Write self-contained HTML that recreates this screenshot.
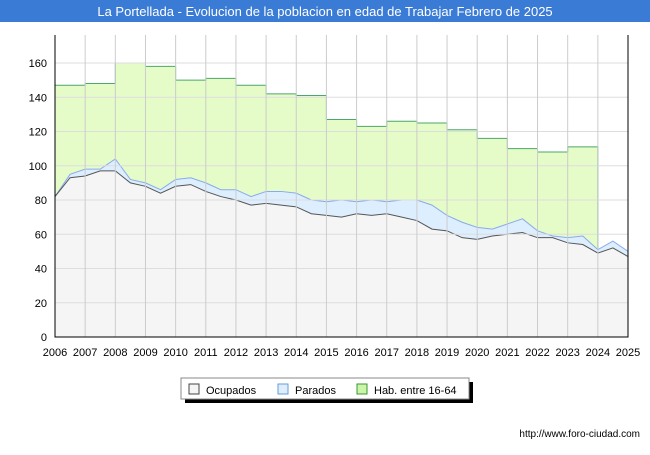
<!DOCTYPE html>
<html><head><meta charset="utf-8"><style>
body{margin:0;background:#fff;font-family:"Liberation Sans",sans-serif}
</style></head><body>
<svg width="650" height="450" xmlns="http://www.w3.org/2000/svg">
<rect x="0" y="0" width="650" height="22" fill="#3a7bd5"/>
<text x="325" y="16" text-anchor="middle" font-size="13" fill="#fff" font-family="Liberation Sans, sans-serif">La Portellada - Evolucion de la poblacion en edad de Trabajar Febrero de 2025</text>
<g id="plot"></g>
<g>
<rect x="185" y="382" width="288" height="21" fill="#000"/>
<rect x="181" y="378" width="288" height="21" fill="#fff" stroke="#888"/>
<rect x="189" y="384" width="10" height="10" fill="#f5f5f5" stroke="#444"/>
<text x="206" y="394" font-size="11">Ocupados</text>
<rect x="278" y="384" width="10" height="10" fill="#ddeeff" stroke="#6699dd"/>
<text x="295" y="394" font-size="11">Parados</text>
<rect x="357" y="384" width="10" height="10" fill="#ccf5aa" stroke="#339933"/>
<text x="374" y="394" font-size="11">Hab. entre 16-64</text>
</g>
<text x="640" y="437" text-anchor="end" font-size="10" fill="#000">http://www.foro-ciudad.com</text>
</svg>
<script>
const years=[2006,2007,2008,2009,2010,2011,2012,2013,2014,2015,2016,2017,2018,2019,2020,2021,2022,2023,2024,2025];
const yTicks=[0,20,40,60,80,100,120,140,160];
const habYears=[2006,2007,2008,2009,2010,2011,2012,2013,2014,2015,2016,2017,2018,2019,2020,2021,2022,2023];
const habValues=[147,148,160,158,150,151,147,142,141,127,123,126,125,121,116,110,108,111];
const habEnd=68;
const seriesT=[2006,2006.5,2007,2007.5,2008,2008.5,2009,2009.5,2010,2010.5,2011,2011.5,2012,2012.5,2013,2013.5,2014,2014.5,2015,2015.5,2016,2016.5,2017,2017.5,2018,2018.5,2019,2019.5,2020,2020.5,2021,2021.5,2022,2022.5,2023,2023.5,2024,2024.5,2025];
const ocupados=[82,93,94,97,97,90,88,84,88,89,85,82,80,77,78,77,76,72,71,70,72,71,72,70,68,63,62,58,57,59,60,61,58,58,55,54,49,52,47];
const totales=[82,95,98,98,104,92,90,86,92,93,90,86,86,82,85,85,84,80,79,80,79,80,79,80,80,77,71,67,64,63,66,69,62,59,58,59,51,56,50];
const X0=55,X1=628,Y0=337,YS=274/160;
const x=t=>X0+(t-2006)*(X1-X0)/19;
const y=v=>Y0-v*YS;
const NS="http://www.w3.org/2000/svg";
const g=document.getElementById('plot');
function mk(tag,a){const e=document.createElementNS(NS,tag);for(const k in a)e.setAttribute(k,a[k]);g.appendChild(e);return e;}
const n=Math.min(seriesT.length,ocupados.length,totales.length);
let bg=mk('rect',{x:X0,y:35,width:X1-X0,height:Y0-35,fill:'#fff'});

let hp=`M${x(habYears[0])},${Y0}`;
habYears.forEach((yr,i)=>{const nx=i<habYears.length-1?habYears[i+1]:2024;hp+=` L${x(yr)},${y(habValues[i])} L${x(nx)},${y(habValues[i])}`;});
hp+=` L${x(2024)},${y(habEnd)} L${x(2024)},${Y0} Z`;
let ha=mk('path',{d:hp,fill:'#e5fcc8',stroke:'#4aa86a','stroke-width':1});

let tp=`M${x(seriesT[0])},${Y0}`;for(let i=0;i<n;i++)tp+=` L${x(seriesT[i])},${y(totales[i])}`;tp+=` L${x(seriesT[n-1])},${Y0} Z`;
let ta=mk('path',{d:tp,fill:'#ddeeff',stroke:'#88aaee','stroke-width':1});

let op=`M${x(seriesT[0])},${Y0}`;for(let i=0;i<n;i++)op+=` L${x(seriesT[i])},${y(ocupados[i])}`;op+=` L${x(seriesT[n-1])},${Y0} Z`;
let oa=mk('path',{d:op,fill:'#f5f5f5',stroke:'#555','stroke-width':1});

yTicks.forEach(v=>{if(v>0){let l=mk('line',{x1:X0,x2:X1,y1:y(v),y2:y(v),stroke:'#ddd'});}
let t=mk('text',{x:47,y:y(v)+4,'text-anchor':'end','font-size':11,fill:'#000'});t.textContent=v;});
years.forEach(yr=>{if(yr>2006&&yr<2025){let l=mk('line',{x1:x(yr),x2:x(yr),y1:35,y2:Y0,stroke:'#ccc'});}
let t=mk('text',{x:x(yr),y:356,'text-anchor':'middle','font-size':11,fill:'#000'});t.textContent=yr;});
let ax=mk('path',{d:`M${X0},35 L${X0},${Y0} L${X1},${Y0} L${X1},35`,fill:'none',stroke:'#000','stroke-width':1});

</script>
</body></html>
